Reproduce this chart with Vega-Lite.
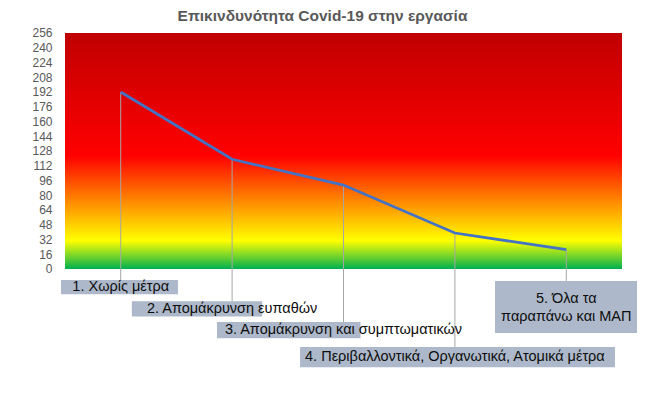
{
  "$schema": "https://vega.github.io/schema/vega-lite/v6.json",
  "autosize": {"type": "none"},
  "width": 557,
  "height": 337.4,
  "padding": {"left": 65, "top": 33, "right": 24, "bottom": 24},
  "background": "#ffffff",
  "config": {"view": {"stroke": null}, "font": "Liberation Sans", "axisY": {"labelOverlap": false, "title": null, "domain": false, "ticks": false, "grid": false, "labelPadding": 13, "labelFontSize": 12, "labelColor": "#595959", "labelFont": "Liberation Sans", "labelSeparation": 0, "labelBound": false}},
  "title": {"text": "Επικινδυνότητα Covid-19 στην εργασία", "font": "Liberation Sans", "fontSize": 15.5, "fontWeight": "bold", "color": "#595959", "anchor": "middle", "dx": -21, "offset": 2},
  "datasets": {
    "steps": [
      {"step": 1, "risk": 192, "label": "1. Χωρίς μέτρα", "lo": 0.464, "hi": 1.514, "top": -12, "bottom": -27.5, "labelY": -19.8},
      {"step": 2, "risk": 119, "label": "2. Απομάκρυνση ευπαθών", "lo": 1.10, "hi": 2.27, "top": -35, "bottom": -51.5, "labelY": -43.2},
      {"step": 3, "risk": 91, "label": "3. Απομάκρυνση και συμπτωματικών", "lo": 1.864, "hi": 3.153, "top": -57.5, "bottom": -75, "labelY": -66.2},
      {"step": 4, "risk": 39, "label": "4. Περιβαλλοντικά, Οργανωτικά, Ατομικά μέτρα", "lo": 2.61, "hi": 5.437, "top": -84.5, "bottom": -106.5, "labelY": -95.5},
      {"step": 5, "risk": 21, "label": "5. Όλα τα\nπαραπάνω και ΜΑΠ", "lo": 4.36, "hi": 5.635, "top": -13, "bottom": -69.4, "labelY": -32.5}
    ],
    "band": [{"from": 0, "to": 256, "x0": 0.5, "x1": 5.5}]
  },
  "layer": [
    {
      "data": {"name": "band"},
      "mark": {"type": "rect", "color": {"gradient": "linear", "x1": 0, "y1": 0, "x2": 0, "y2": 1, "stops": [
        {"offset": 0, "color": "#C00000"},
        {"offset": 0.52, "color": "#FF0000"},
        {"offset": 0.88, "color": "#FFFF00"},
        {"offset": 1, "color": "#00B050"}
      ]}},
      "encoding": {
        "x": {"field": "x0", "type": "quantitative", "scale": {"domain": [0.5, 5.5], "nice": false, "zero": false}, "axis": null},
        "x2": {"field": "x1"},
        "y": {"field": "from", "type": "quantitative", "scale": {"domain": [-110, 256], "nice": false, "zero": false}, "axis": {"values": [0, 16, 32, 48, 64, 80, 96, 112, 128, 144, 160, 176, 192, 208, 224, 240, 256], "labelOverlap": false}},
        "y2": {"field": "to"}
      }
    },
    {
      "data": {"name": "steps"},
      "mark": {"type": "rule", "color": "#A6A6A6", "strokeWidth": 1},
      "encoding": {
        "x": {"field": "step", "type": "quantitative"},
        "y": {"field": "risk", "type": "quantitative", "axis": {"values": [0, 16, 32, 48, 64, 80, 96, 112, 128, 144, 160, 176, 192, 208, 224, 240, 256], "labelOverlap": false}},
        "y2": {"field": "top"}
      }
    },
    {
      "data": {"name": "steps"},
      "mark": {"type": "line", "color": "#4472C4", "strokeWidth": 2.75},
      "encoding": {
        "x": {"field": "step", "type": "quantitative"},
        "y": {"field": "risk", "type": "quantitative", "axis": {"values": [0, 16, 32, 48, 64, 80, 96, 112, 128, 144, 160, 176, 192, 208, 224, 240, 256], "labelOverlap": false}}
      }
    },
    {
      "data": {"name": "steps"},
      "mark": {"type": "rect", "color": "#ADB9CA", "clip": false},
      "encoding": {
        "x": {"field": "lo", "type": "quantitative"},
        "x2": {"field": "hi"},
        "y": {"field": "bottom", "type": "quantitative", "axis": {"values": [0, 16, 32, 48, 64, 80, 96, 112, 128, 144, 160, 176, 192, 208, 224, 240, 256], "labelOverlap": false}},
        "y2": {"field": "top"}
      }
    },
    {
      "data": {"name": "steps"},
      "mark": {"type": "text", "fontSize": 14.5, "font": "Liberation Sans", "color": "#0D0D0D", "lineBreak": "\n", "lineHeight": 18, "align": "center", "baseline": "middle"},
      "encoding": {
        "x": {"field": "step", "type": "quantitative"},
        "y": {"field": "labelY", "type": "quantitative", "axis": {"values": [0, 16, 32, 48, 64, 80, 96, 112, 128, 144, 160, 176, 192, 208, 224, 240, 256], "labelOverlap": false}},
        "text": {"field": "label"}
      }
    }
  ]
}
